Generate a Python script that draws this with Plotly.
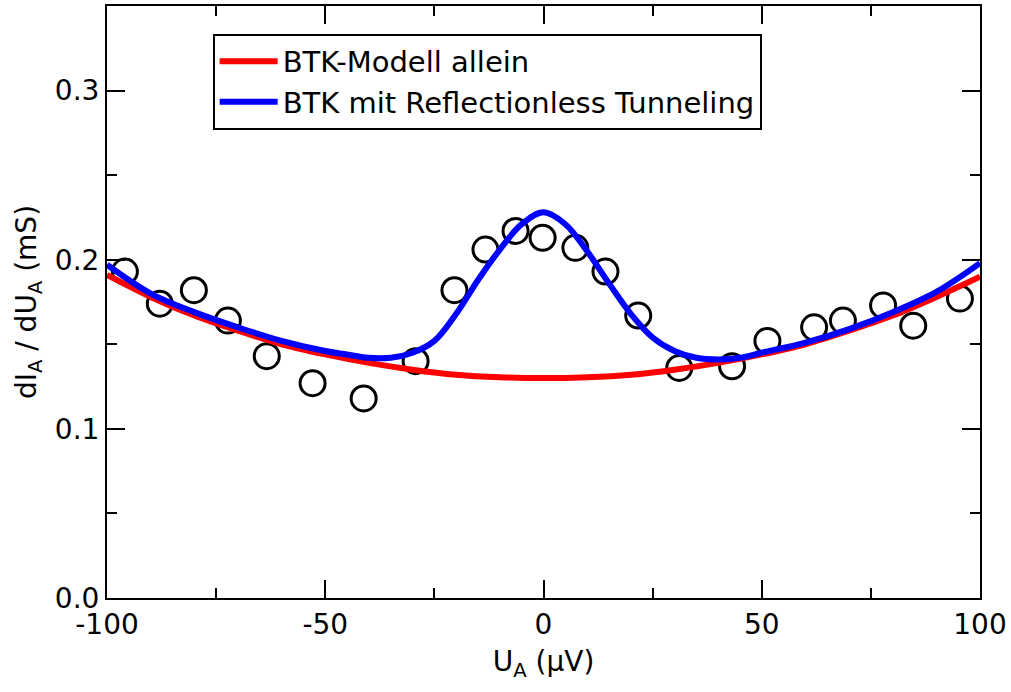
import plotly.graph_objects as go

# Measured differential conductance
u_meas = [-95.9, -87.9, -80.1, -72.3, -63.4, -52.9, -41.2, -29.3, -20.4, -13.3, -6.4, -0.2,
          7.3, 14.2, 21.7, 31.1, 43.2, 51.3, 62.0, 68.6, 77.8, 84.7, 95.4]
g_meas = [0.193, 0.174, 0.182, 0.164, 0.143, 0.127, 0.118, 0.140, 0.182, 0.206, 0.217, 0.213,
          0.207, 0.193, 0.167, 0.136, 0.137, 0.152, 0.160, 0.164, 0.173, 0.161, 0.177]

# BTK model only
u_btk = [-100, -90, -80, -70, -60, -50, -40, -30, -20, -10, 0,
         10, 20, 30, 40, 50, 60, 70, 80, 90, 100]
g_btk = [0.191, 0.178, 0.167, 0.158, 0.150, 0.144, 0.139, 0.135, 0.132, 0.1305, 0.130,
         0.1305, 0.132, 0.135, 0.139, 0.144, 0.150, 0.158, 0.167, 0.178, 0.190]

# BTK with reflectionless tunneling
u_rt = [-100, -90, -80, -70, -60, -50, -45, -40, -35, -30, -25, -20, -15, -10, -5, 0,
        5, 10, 15, 20, 25, 30, 35, 40, 45, 50, 60, 70, 80, 90, 100]
g_rt = [0.197, 0.180, 0.169, 0.160, 0.152, 0.146, 0.144, 0.142, 0.142, 0.145, 0.152, 0.168,
        0.188, 0.206, 0.221, 0.228, 0.221, 0.205, 0.186, 0.168, 0.154, 0.146, 0.142, 0.141,
        0.142, 0.145, 0.151, 0.159, 0.169, 0.181, 0.198]

x_ticks = [-100, -50, 0, 50, 100]
y_ticks = [0.0, 0.1, 0.2, 0.3]

FONT = "DejaVu Sans"

fig = go.Figure()
fig.add_trace(go.Scatter(
    x=u_meas, y=g_meas, mode="markers", showlegend=False,
    marker=dict(symbol="circle-open", size=25, color="black", line=dict(width=3, color="black")),
))
fig.add_trace(go.Scatter(
    x=u_btk, y=g_btk, mode="lines", name="BTK-Modell allein",
    line=dict(color="#ff0000", width=6, shape="spline", smoothing=1.0),
))
fig.add_trace(go.Scatter(
    x=u_rt, y=g_rt, mode="lines", name="BTK mit Reflectionless Tunneling",
    line=dict(color="#0000ff", width=6, shape="spline", smoothing=1.0),
))

axis_common = dict(
    showgrid=False, zeroline=False,
    showline=True, linecolor="black", linewidth=2, mirror="allticks",
    ticks="inside", ticklen=18, tickwidth=2, tickcolor="black",
    tickfont=dict(family=FONT, size=28, color="black"),
)

fig.update_xaxes(
    range=[-100, 100], tickvals=x_ticks, ticktext=[str(v) for v in x_ticks],
    minor=dict(dtick=25, tick0=0, ticks="inside", ticklen=10, tickwidth=2, tickcolor="black"),
    title=dict(text="U<sub>A</sub> (µV)", font=dict(family=FONT, size=28, color="black"), standoff=12),
    **axis_common,
)
fig.update_yaxes(
    range=[0, 0.35], tickvals=y_ticks, ticktext=[f"{v:.1f}" for v in y_ticks],
    minor=dict(dtick=0.05, tick0=0, ticks="inside", ticklen=10, tickwidth=2, tickcolor="black"),
    title=dict(text="dI<sub>A</sub> / dU<sub>A</sub> (mS)", font=dict(family=FONT, size=28, color="black"), standoff=10),
    **axis_common,
)

fig.update_layout(
    width=1011, height=692,
    margin=dict(l=107, r=29, t=4, b=94),
    paper_bgcolor="white", plot_bgcolor="white",
    font=dict(family=FONT, size=28, color="black"),
    legend=dict(
        x=0.121, y=0.953, xanchor="left", yanchor="top",
        bgcolor="white", bordercolor="black", borderwidth=2,
        font=dict(family=FONT, size=29, color="black"),
        itemwidth=58, entrywidth=557,
        tracegroupgap=0,
    ),
)

fig.write_html("out.html")
